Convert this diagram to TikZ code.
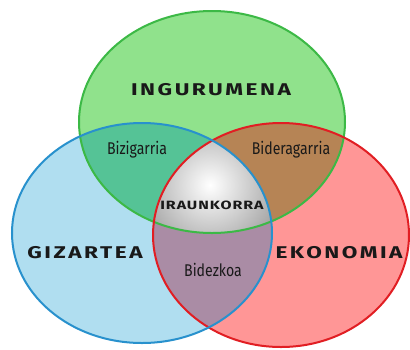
\documentclass[tikz,border=0pt]{standalone}
\usepackage{graphicx}
\usepackage{fontspec}
\setmainfont{Fira Sans}
\definecolor{gfill}{RGB}{144,226,140}
\definecolor{bfill}{RGB}{176,222,240}
\definecolor{rfill}{RGB}{255,150,150}
\definecolor{gbfill}{RGB}{85,195,150}
\definecolor{grfill}{RGB}{182,132,85}
\definecolor{brfill}{RGB}{170,140,165}
\definecolor{cgray}{RGB}{160,160,160}
\definecolor{gline}{RGB}{60,185,70}
\definecolor{bline}{RGB}{40,145,205}
\definecolor{rline}{RGB}{225,30,35}
\definecolor{txt}{RGB}{25,25,25}
\newcommand\wide[1]{\scalebox{1.33}[1]{#1}}
\newcommand\cond[1]{\scalebox{0.83}[1]{#1}}
\tikzset{
  bigcap/.style={text=txt, inner sep=0pt, font=\fontsize{17}{17}\selectfont\bfseries\addfontfeatures{LetterSpace=11}},
  midcap/.style={text=txt, inner sep=0pt, font=\fontsize{12}{12}\selectfont\bfseries\addfontfeatures{LetterSpace=6}},
  smalllab/.style={text=txt, inner sep=0pt, font=\fontsize{17}{17}\selectfont},
  rim/.style={line width=2pt}
}
\def\G{(212,122) ellipse [x radius=133pt, y radius=111pt]}
\def\B{(142,233) ellipse [x radius=130pt, y radius=110pt]}
\def\R{(281,235) ellipse [x radius=128pt, y radius=112pt]}
\begin{document}
\begin{tikzpicture}[x=1pt,y=-1pt]
\useasboundingbox (0,0) rectangle (410,349);
\fill[white] (0,0) rectangle (410,349);
\fill[gfill] \G;
\fill[bfill] \B;
\fill[rfill] \R;
\begin{scope}\clip \G; \fill[gbfill] \B; \end{scope}
\begin{scope}\clip \G; \fill[grfill] \R; \end{scope}
\begin{scope}\clip \B; \fill[brfill] \R; \end{scope}
\begin{scope}
  \clip \G; \clip \B; \clip \R;
  \fill[cgray] (100,100) rectangle (320,260);
  \shade[inner color=white, outer color=cgray] (210,185) circle (75pt);
\end{scope}
\draw[rim, gline] \G;
\draw[rim, rline] \R;
\draw[rim, bline] \B;
\node[bigcap] (ing) at (211,90) {\wide{INGURUMENA}};
\node[bigcap] (giz) at (85,253) {\wide{GIZARTEA}};
\node[bigcap] (eko) at (339,253) {\wide{EKONOMIA}};
\node[midcap] (iraun) at (212,205) {\wide{IRAUNKORRA}};
\node[smalllab] (biz) at (137,150) {\cond{Bizigarria}};
\node[smalllab] (bid) at (291,150) {\cond{Bideragarria}};
\node[smalllab] (bidez) at (213,270) {\cond{Bidezkoa}};
\end{tikzpicture}
\end{document}
